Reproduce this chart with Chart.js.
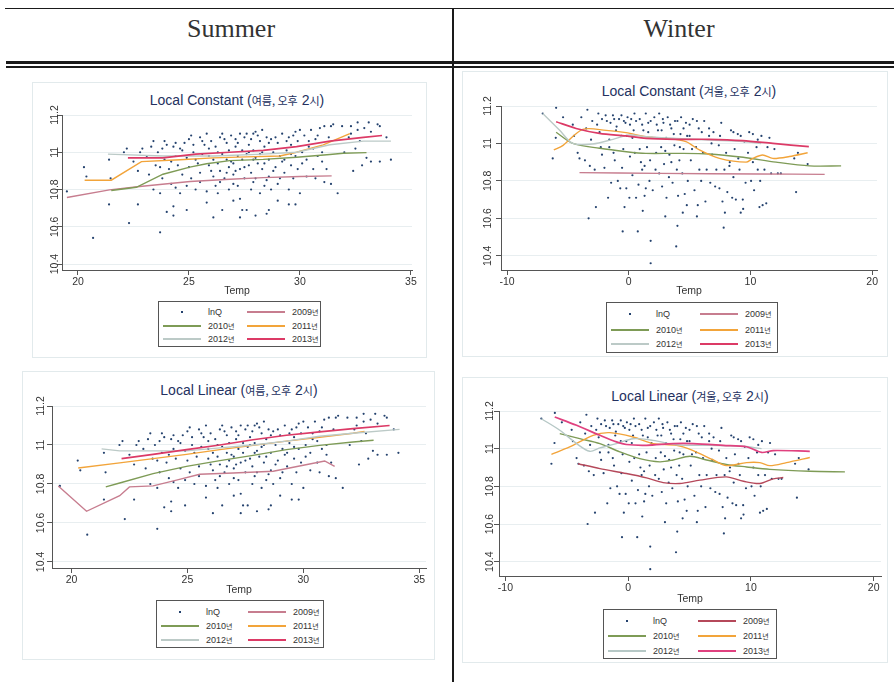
<!DOCTYPE html>
<html>
<head>
<meta charset="utf-8">
<script src="https://cdn.jsdelivr.net/npm/chart.js@4/dist/chart.umd.min.js"></script>
<style>
body{margin:0;width:894px;height:682px;background:#fff;position:relative;overflow:hidden;font-family:"Liberation Sans",Arial,"Noto Sans CJK KR",sans-serif}
.rule{position:absolute;background:#1a1a1a}
.head{position:absolute;top:14px;transform:translateX(-50%);font-family:"Liberation Serif","Times New Roman",serif;font-size:26px;color:#333;line-height:normal}
.frame{position:absolute;box-sizing:border-box;border:1px solid #e2eaec;background:#fff}
canvas{position:absolute}
.ttl{position:absolute;transform:translate(-50%,-50%);white-space:nowrap;font-size:14px;color:#243160}
.ttl .k{font-size:11px;font-family:"Noto Sans CJK KR",sans-serif}
.leg{position:absolute;box-sizing:border-box;border:1px solid #555;background:#fff}
.leg .sym{position:absolute;height:2px}
.leg .dot{position:absolute;width:2px;height:2px;background:#24426e}
.leg .lab{position:absolute;transform:translateY(-50%);font-size:9px;color:#333;white-space:nowrap}
.leg .lab .k{font-size:7px;font-family:"Noto Sans CJK KR",sans-serif}
</style>
</head>
<body>
<div class="rule" style="left:5px;top:8px;width:889px;height:1px"></div>
<div class="rule" style="left:6px;top:61px;width:888px;height:3px"></div>
<div class="rule" style="left:6px;top:66px;width:888px;height:2px"></div>
<div class="rule" style="left:452px;top:8px;width:2px;height:674px"></div>
<div class="head" style="left:231px">Summer</div>
<div class="head" style="left:679px">Winter</div>
<script>
const years=['2009','2010','2011','2012','2013']
const xTicksSummer=[20,25,30,35]
const xTicksWinter=[-10,0,10,20]
const yTicks=[10.4,10.6,10.8,11,11.2]
const lineColors=['#c77d8f','#7e9b56','#f2a43a','#bccac7','#dc3a66']
const lineColorsAlt=['#b5485a','#7e9b56','#f2a43a','#b6c8c6','#e0417f']

// lnQ vs Temp, summer 2pm
const summerPts=[[19.5,10.79],[20.27,10.92],[20.38,10.87],[20.68,10.54],[21.4,10.96],[21.4,10.72],[21.47,10.86],[22.07,11.0],[22.2,11.02],[22.3,10.62],[22.5,10.95],[22.7,10.72],[22.7,10.9],[22.8,11.0],[22.9,11.02],[23.1,10.98],[23.2,10.88],[23.3,11.03],[23.4,10.8],[23.4,11.06],[23.5,10.93],[23.6,11.0],[23.7,10.92],[23.7,10.78],[23.7,10.57],[23.8,10.86],[23.8,11.02],[23.9,10.96],[24.0,11.04],[24.0,10.68],[24.1,10.91],[24.2,10.83],[24.3,10.71],[24.3,10.66],[24.3,11.03],[24.4,10.81],[24.4,10.98],[24.4,11.05],[24.5,10.93],[24.6,10.78],[24.7,10.88],[24.7,11.01],[24.8,11.05],[24.9,10.82],[24.9,10.69],[24.9,10.97],[25.0,11.07],[25.0,10.92],[25.1,10.86],[25.2,11.0],[25.2,11.04],[25.3,10.8],[25.4,10.94],[25.5,11.08],[25.5,10.89],[25.5,10.84],[25.6,10.99],[25.7,11.04],[25.8,11.1],[25.8,10.79],[25.8,10.73],[25.9,10.93],[25.9,10.98],[26.0,11.06],[26.1,10.65],[26.1,10.87],[26.2,10.82],[26.2,11.03],[26.3,10.94],[26.3,10.78],[26.4,11.08],[26.4,10.9],[26.5,10.69],[26.5,10.99],[26.5,11.1],[26.6,10.86],[26.7,10.96],[26.7,11.05],[26.8,10.92],[26.8,11.01],[26.8,10.8],[26.9,11.09],[27.0,10.88],[27.0,10.94],[27.0,10.74],[27.1,11.03],[27.1,11.07],[27.2,10.98],[27.2,10.82],[27.3,10.75],[27.3,11.1],[27.3,10.65],[27.3,10.91],[27.4,11.01],[27.4,10.69],[27.4,10.96],[27.5,11.08],[27.5,10.86],[27.6,11.1],[27.6,10.99],[27.6,10.69],[27.7,10.93],[27.7,11.04],[27.8,10.8],[27.8,10.89],[27.9,11.1],[27.9,10.96],[27.9,11.01],[28.0,10.66],[28.0,11.11],[28.0,10.86],[28.1,10.94],[28.2,11.06],[28.2,10.78],[28.2,10.99],[28.3,11.12],[28.3,10.91],[28.4,10.82],[28.4,11.03],[28.5,11.08],[28.5,10.67],[28.6,10.96],[28.6,10.87],[28.6,10.69],[28.7,11.07],[28.7,10.8],[28.8,11.0],[28.9,10.92],[29.0,11.05],[29.0,10.74],[29.1,10.86],[29.1,10.98],[29.2,11.1],[29.3,10.89],[29.4,11.01],[29.5,10.8],[29.5,11.08],[29.5,10.72],[29.6,10.93],[29.6,11.04],[29.7,11.09],[29.7,10.86],[29.8,10.72],[29.8,10.98],[29.9,11.06],[29.9,10.91],[30.0,11.12],[30.0,10.78],[30.1,11.0],[30.2,11.09],[30.3,10.87],[30.3,10.96],[30.4,11.06],[30.5,11.12],[30.6,10.91],[30.6,11.02],[30.7,10.86],[30.8,11.09],[30.8,10.98],[30.9,11.13],[31.0,11.0],[31.1,10.84],[31.1,11.14],[31.2,10.91],[31.3,11.08],[31.4,11.14],[31.4,10.83],[31.5,11.15],[31.7,10.78],[31.9,11.14],[32.0,11.0],[32.2,11.08],[32.3,11.14],[32.3,11.1],[32.4,10.9],[32.5,11.02],[32.6,11.16],[32.6,11.12],[32.7,11.06],[32.8,10.93],[32.9,11.13],[33.0,10.97],[33.1,11.16],[33.2,10.95],[33.2,11.11],[33.5,11.15],[33.6,10.95],[33.6,11.14],[33.9,11.08],[34.1,10.96],
[25.6,11.06],[25.9,11.02],[26.1,10.96],[26.3,11.0],[26.6,11.07],[26.9,10.95],[27.1,10.9],[27.2,11.05],[27.5,10.92],[27.7,11.0],[27.8,11.07],[28.0,10.97],[28.1,11.09],[28.3,11.0],[28.4,10.94],[28.6,11.05],[28.8,10.9],[28.9,11.08],[29.2,10.95],[29.4,11.06],[29.6,10.99],[29.8,11.11],[30.1,10.94],[30.4,11.03],[30.7,11.07],[31.0,10.95],[26.0,10.9],[26.4,10.84],[27.0,10.83],[25.3,10.96],[24.6,11.02],[24.2,10.95],[23.9,11.06],[25.1,11.09],[26.7,10.89],[27.9,10.84],[28.5,10.85],[29.0,10.83],[29.3,10.96]]

// lnQ vs Temp, winter 2pm
const winterPts=[[-7.07,11.16],[-6.25,10.92],[-5.97,11.19],[-6.0,11.03],[-5.4,11.14],[-4.6,11.1],[-4.5,11.04],[-4.2,10.95],[-4.05,10.92],[-3.9,11.14],[-3.6,10.91],[-3.5,11.08],[-3.4,11.18],[-3.3,10.6],[-3.2,10.88],[-3.1,11.02],[-3.0,11.12],[-2.8,10.86],[-2.7,10.66],[-2.5,11.16],[-2.4,11.06],[-2.3,10.98],[-2.2,11.13],[-2.0,10.87],[-1.9,11.15],[-1.7,10.71],[-1.6,11.02],[-1.5,11.11],[-1.45,10.79],[-1.3,11.15],[-1.25,10.95],[-1.15,10.91],[-1.05,11.07],[-0.9,10.8],[-0.8,11.13],[-0.7,10.76],[-0.6,11.15],[-0.55,10.87],[-0.5,10.53],[-0.45,10.97],[-0.35,10.66],[-0.27,11.11],[-0.2,10.76],[-0.15,11.04],[-0.1,11.14],[0.05,10.71],[0.1,10.93],[0.2,11.13],[0.3,10.83],[0.3,11.03],[0.47,11.16],[0.6,10.71],[0.74,10.53],[0.8,10.78],[0.9,11.13],[0.9,10.97],[1.0,10.9],[1.1,10.86],[1.15,10.64],[1.2,11.07],[1.3,10.72],[1.4,10.76],[1.4,11.16],[1.5,10.98],[1.6,11.11],[1.7,10.8],[1.75,10.91],[1.8,10.48],[1.8,10.36],[1.9,11.03],[1.97,10.75],[2.1,11.14],[2.2,10.86],[2.25,10.95],[2.4,11.07],[2.5,11.16],[2.5,10.84],[2.66,10.98],[2.74,10.77],[2.85,11.11],[2.9,10.89],[3.0,10.61],[3.07,11.03],[3.1,10.71],[3.2,11.14],[3.3,10.82],[3.34,10.94],[3.5,11.08],[3.6,10.79],[3.75,10.99],[3.8,11.12],[3.9,10.45],[3.95,10.86],[4.0,10.56],[4.05,10.72],[4.16,10.91],[4.25,11.05],[4.3,11.14],[4.4,10.84],[4.44,10.63],[4.5,10.97],[4.6,10.73],[4.7,11.11],[4.77,10.67],[4.85,10.8],[5.0,11.04],[5.1,10.91],[5.26,11.13],[5.4,10.75],[5.53,10.98],[5.6,10.61],[5.67,10.67],[5.75,11.08],[5.8,10.86],[5.95,10.8],[6.1,10.95],[6.2,11.12],[6.3,10.69],[6.4,10.86],[6.6,11.04],[6.7,10.79],[6.85,10.94],[6.96,11.06],[7.1,10.77],[7.2,10.86],[7.4,10.99],[7.45,10.76],[7.6,11.11],[7.7,10.69],[7.8,10.55],[7.86,10.86],[7.9,10.63],[8.0,10.95],[8.1,10.74],[8.27,10.88],[8.4,11.07],[8.5,10.71],[8.6,10.82],[8.7,10.97],[8.8,10.7],[8.96,11.05],[9.1,10.86],[9.2,10.63],[9.37,10.7],[9.4,10.65],[9.5,11.01],[9.6,10.79],[9.8,10.95],[9.9,11.06],[10.05,10.8],[10.2,10.9],[10.3,10.75],[10.5,10.98],[10.6,10.86],[10.74,10.66],[10.8,10.8],[10.9,11.04],[11.0,10.67],[11.15,10.86],[11.3,10.68],[11.4,10.98],[11.56,11.03],[11.7,10.84],[11.97,10.97],[12.25,10.84],[12.5,10.84],[13.6,10.92],[13.75,10.74],[13.9,10.95],[14.7,10.89],
[-1.8,11.12],[-1.2,11.13],[-0.4,11.12],[0.1,11.1],[0.6,11.12],[1.1,11.1],[1.8,11.12],[2.3,11.1],[2.8,11.13],[3.4,11.1],[4.0,11.12],[4.5,11.08],[5.0,11.1],[5.6,11.12],[6.0,11.06],[6.6,11.08],[-1.0,11.09],[0.4,11.07],[1.6,11.06],[2.7,11.07],[3.7,11.05],[4.8,11.04],[-2.6,11.1],[-0.6,11.04],[3.0,10.96],[4.2,10.98],[5.2,10.97],[6.8,11.0],[7.5,11.04],[8.6,11.06],[9.2,11.04],[10.2,11.05],[10.6,11.02],[8.3,10.9],[9.0,10.92],[3.5,10.9],[1.3,10.88],[0.5,10.95],[-1.6,10.98],[-2.2,10.94]]

// Local constant, summer
const sumConst2009=[[19.5,10.757],[21.42,10.798],[22.78,10.816],[25.05,10.843],[26.85,10.855],[28.35,10.864],[30.0,10.87],[31.43,10.873]]
const sumConst2010=[[21.5,10.795],[22.63,10.812],[23.83,10.882],[25.04,10.92],[25.79,10.938],[26.84,10.955],[28.35,10.962],[29.85,10.973],[31.35,10.988],[31.95,10.995],[33.0,10.998]]
const sumConst2011=[[20.3,10.85],[21.5,10.85],[22.86,10.95],[24.6,10.96],[26.1,10.97],[27.6,10.975],[29.1,10.98],[29.85,11.0],[31.05,11.04],[32.25,11.1]]
const sumConst2012=[[21.35,10.99],[23.83,10.98],[26.1,10.98],[28.35,10.99],[29.85,11.0],[31.35,11.04],[32.86,11.06],[34.1,11.06]]
const sumConst2013=[[22.25,10.97],[23.83,10.97],[25.3,10.99],[26.84,11.0],[28.35,11.01],[29.85,11.03],[31.35,11.06],[32.86,11.08],[33.7,11.09]]

// Local linear, summer
const sumLin2009=[[19.43,10.79],[20.65,10.66],[22.08,10.74],[22.5,10.785],[23.52,10.79],[24.53,10.82],[25.53,10.85],[26.97,10.856],[28.7,10.865],[30.0,10.896],[30.92,10.918],[31.35,10.89]]
const sumLin2010=[[21.48,10.785],[22.08,10.805],[23.52,10.853],[24.96,10.89],[26.4,10.92],[27.83,10.947],[29.27,10.976],[30.7,10.998],[32.14,11.015],[33.03,11.024]]
const sumLin2011=[[20.29,10.882],[22.08,10.908],[23.52,10.93],[24.96,10.952],[26.4,10.976],[27.83,10.998],[29.27,11.02],[30.7,11.04],[32.14,11.06],[32.64,11.07]]
const sumLin2012=[[21.3,10.98],[22.08,10.97],[23.52,10.97],[24.96,10.97],[26.4,10.985],[27.83,11.0],[29.27,11.02],[30.7,11.045],[32.14,11.06],[34.15,11.08]]
const sumLin2013=[[22.16,10.93],[23.52,10.952],[24.96,10.976],[26.4,11.0],[27.83,11.027],[29.27,11.05],[30.7,11.067],[32.14,11.084],[33.72,11.1]]

// Local constant, winter
const winConst2009=[[-4.05,10.844],[2.52,10.84],[10.74,10.837],[16.1,10.835]]
const winConst2010=[[-5.97,11.06],[-4.6,11.0],[-2.4,10.974],[-0.2,10.956],[1.4,10.947],[3.9,10.947],[6.6,10.944],[9.4,10.926],[12.1,10.9],[14.85,10.88],[17.45,10.88]]
const winConst2011=[[-6.16,10.965],[-5.4,10.99],[-3.78,11.075],[-1.86,11.07],[-0.22,11.058],[1.42,11.036],[3.07,11.027],[4.7,11.01],[5.8,10.965],[7.45,10.92],[9.64,10.9],[10.19,10.92],[11.0,10.938],[11.84,10.92],[13.2,10.93],[14.7,10.95]]
const winConst2012=[[-7.07,11.16],[-5.7,11.072],[-4.6,11.0],[-2.96,10.997],[-1.3,11.022],[0.05,11.045],[1.42,11.036],[3.9,11.027],[6.6,11.018],[9.37,11.01],[10.88,11.0]]
const winConst2013=[[-5.97,11.116],[-4.33,11.08],[-2.41,11.054],[-0.22,11.04],[1.42,11.027],[3.9,11.022],[6.6,11.022],[9.37,11.015],[11.84,11.0],[14.8,10.983]]

// Local linear, winter
const winLin2009=[[-4.08,10.92],[-2.3,10.894],[-0.14,10.868],[1.5,10.845],[2.85,10.82],[4.2,10.815],[5.84,10.833],[8.0,10.85],[9.4,10.827],[10.73,10.815],[11.82,10.84],[12.64,10.847]]
const winLin2010=[[-5.57,11.08],[-3.94,11.053],[-2.3,11.027],[-0.68,10.983],[0.95,10.947],[2.58,10.93],[3.67,10.94],[5.03,10.96],[6.39,10.94],[8.0,10.916],[9.65,10.903],[11.55,10.89],[14.8,10.88],[17.66,10.877]]
const winLin2011=[[-6.25,10.97],[-4.76,11.009],[-2.85,11.071],[-1.5,11.085],[0.41,11.062],[2.04,11.027],[3.94,11.018],[5.3,10.99],[6.93,10.94],[8.0,10.91],[9.65,10.926],[10.73,10.926],[11.55,10.91],[12.9,10.926],[14.8,10.953]]
const winLin2012=[[-7.07,11.159],[-5.57,11.098],[-4.2,11.027],[-3.13,10.986],[-2.3,11.004],[-0.95,11.027],[0.41,11.053],[2.04,11.044],[3.94,11.021],[6.66,11.018],[9.38,11.013],[10.87,11.0]]
const winLin2013=[[-5.98,11.168],[-4.2,11.124],[-2.3,11.071],[-0.95,11.036],[-0.14,11.022],[1.5,11.018],[3.67,11.027],[5.3,11.027],[7.74,11.018],[9.65,11.01],[10.87,10.98],[11.82,10.99],[14.8,10.986]]

const FONT='"Liberation Sans", Arial, sans-serif'

// box/area = page pixels of the Stata graph region and plot region
const panels=[
{method:'Local Constant',season:'여름',box:[32,82,395,276],area:[62,115,412,270],ylab:55,xr:[19.28,35.05],yr:[10.368,11.2],xt:xTicksSummer,tOff:21,tc:[237,100],leg:[158,301,163,46],pts:summerPts,lines:[sumConst2009,sumConst2010,sumConst2011,sumConst2012,sumConst2013],colors:lineColors,tension:0},
{method:'Local Constant',season:'겨울',box:[462,71,426,286],area:[501,106,877,270],ylab:488,xr:[-10.5,20.4],yr:[10.324,11.2],xt:xTicksWinter,tOff:21,tc:[689,91],leg:[606,302,172,51],pts:winterPts,lines:[winConst2009,winConst2010,winConst2011,winConst2012,winConst2013],colors:lineColors,tension:0.3},
{method:'Local Linear',season:'여름',box:[22,371,413,289],area:[52,406,426,568],ylab:41,xr:[19.16,35.29],yr:[10.369,11.2],xt:xTicksSummer,tOff:22,tc:[239,390],leg:[156,600,168,48],pts:summerPts,lines:[sumLin2009,sumLin2010,sumLin2011,sumLin2012,sumLin2013],colors:lineColors,tension:0},
{method:'Local Linear',season:'겨울',box:[462,377,426,286],area:[499,411,881,576],ylab:490,xr:[-10.52,20.6],yr:[10.324,11.2],xt:xTicksWinter,tOff:23,tc:[690,396],leg:[603,609,174,50],pts:winterPts,lines:[winLin2009,winLin2010,winLin2011,winLin2012,winLin2013],colors:lineColorsAlt,tension:0.3}
]

const meas=document.createElement('canvas').getContext('2d')
meas.font='10.5px '+FONT
const widest=meas.measureText('10.4').width

function el(tag,cls,parent){
const e=document.createElement(tag)
if(cls) e.className=cls
;(parent||document.body).appendChild(e)
return e
}

function makeLegend(p){
const [lx,ly,lw,lh]=p.leg
const lg=el('div','leg')
lg.style.cssText=`left:${lx}px;top:${ly}px;width:${lw}px;height:${lh}px`
const rows=[lh*0.22,lh*0.52,lh*0.81].map(Math.round)
const lineW=38,col2=Math.round(lw*0.54)
// lnQ, 2009 / 2010, 2011 / 2012, 2013
const entries=[null,0,1,2,3,4]
entries.forEach((yi,k)=>{
const r=rows[Math.floor(k/2)]
const cx=k%2===0?4:col2
if(yi===null){
const d=el('div','dot',lg)
d.style.cssText=`left:${cx+lineW/2-1}px;top:${r-1}px`
}else{
const s=el('div','sym',lg)
s.style.cssText=`left:${cx}px;top:${r-1}px;width:${lineW}px;background:${p.colors[yi]}`
}
const t=el('div','lab',lg)
t.style.cssText=`left:${cx+lineW+7}px;top:${r}px`
t.innerHTML=yi===null?'lnQ':years[yi]+'<span class="k">년</span>'
})
}

function makePanel(p){
const [bx,by,bw,bh]=p.box
const [al,at,ar,ab]=p.area
const fr=el('div','frame')
fr.style.cssText=`left:${bx}px;top:${by}px;width:${bw}px;height:${bh}px`

const tt=el('div','ttl')
tt.style.cssText=`left:${p.tc[0]}px;top:${p.tc[1]}px`
tt.innerHTML=`${p.method} (<span class="k">${p.season}, 오후</span> 2<span class="k">시</span>)`

const cv=el('canvas')
cv.width=bw;cv.height=bh
cv.style.cssText=`left:${bx}px;top:${by}px;width:${bw}px;height:${bh}px`

const Wy=al-bx
const Hx=p.tOff+6.3
const yPad=Wy-5-widest/2-(p.ylab-bx)
const tickFont={family:FONT,size:10.5}

const datasets=[{
type:'scatter',label:'lnQ',
data:p.pts.map(([x,y])=>({x,y})),
pointRadius:1.1,pointBackgroundColor:'#24426e',pointBorderWidth:0,order:10
}]
p.lines.forEach((ln,i)=>{
datasets.push({
type:'line',label:years[i]+'년',
data:ln.map(([x,y])=>({x,y})),
borderColor:p.colors[i],borderWidth:i===4?1.7:1.4,pointRadius:0,
tension:p.tension,fill:false,order:5-i
})
})

new Chart(cv,{
data:{datasets},
options:{
responsive:false,animation:false,
layout:{padding:{left:0,top:at-by,right:bx+bw-ar,bottom:by+bh-ab-Hx}},
plugins:{legend:{display:false},tooltip:{enabled:false}},
scales:{
x:{
type:'linear',min:p.xr[0],max:p.xr[1],
afterBuildTicks:s=>{s.ticks=p.xt.map(v=>({value:v}))},
afterFit:s=>{s.height=Hx},
grid:{drawOnChartArea:false,tickLength:5,tickColor:'#555'},
border:{color:'#555'},
ticks:{padding:1,font:tickFont,color:'#333',maxRotation:0,autoSkip:false},
title:{display:true,text:'Temp',font:tickFont,color:'#333',padding:0}
},
y:{
type:'linear',min:p.yr[0],max:p.yr[1],
afterBuildTicks:s=>{s.ticks=yTicks.map(v=>({value:v}))},
afterFit:s=>{s.width=Wy},
grid:{color:'#e8eef0',tickLength:5,tickColor:'#555'},
border:{color:'#555'},
ticks:{padding:yPad,font:tickFont,color:'#333',minRotation:90,maxRotation:90,crossAlign:'center',autoSkip:false,
callback:v=>String(Math.round(v*10)/10)}
}
}
}
})
makeLegend(p)
}

panels.forEach(makePanel)
</script>
</body>
</html>
